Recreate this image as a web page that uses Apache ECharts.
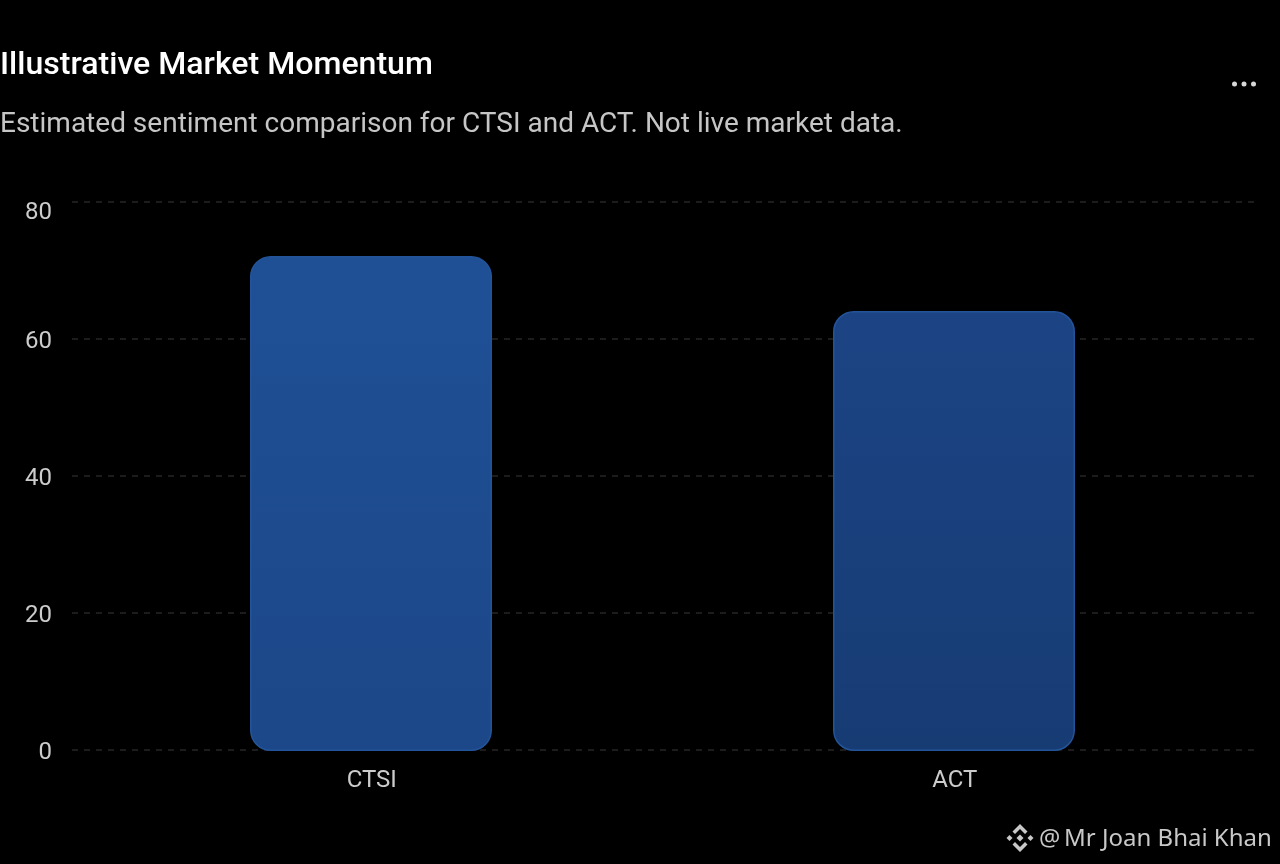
<!DOCTYPE html>
<html><head><meta charset="utf-8">
<style>html,body{margin:0;padding:0;background:#000}#c{width:1280px;height:864px}</style>
<script src="https://cdn.jsdelivr.net/npm/echarts@6/dist/echarts.min.js"></script>
</head><body><div id="c"></div>
<script>
const categories = ["CTSI", "ACT"];
const momentum = [72, 64];
const yTicks = { min: 0, max: 80, interval: 20 };
const titleText = "Illustrative Market Momentum";
const subtitleText = "Estimated sentiment comparison for CTSI and ACT. Not live market data.";
const watermarkAt = "@";
const watermarkName = "Mr Joan Bhai Khan";

const barFills = [
  ["#1f5096", "#1c4788"],
  ["#1c4484", "#173c74"]
];
const chart = echarts.init(document.getElementById("c"), null, { renderer: "canvas" });
const grad = (a, b) => new echarts.graphic.LinearGradient(0, 0, 0, 1, [{ offset: 0, color: a }, { offset: 1, color: b }]);
const poly = pts => ({ type: "polygon", shape: { points: pts }, style: { fill: "#c8c8c8" } });
const diamond = (cx, cy, r) => poly([[cx, cy - r], [cx + r, cy], [cx, cy + r], [cx - r, cy]]);
const cx = 1020, cy = 838;
chart.setOption({
  backgroundColor: "#000",
  animation: false,
  textStyle: { fontFamily: "Roboto" },
  title: [
    { text: titleText, left: 0, top: 50, padding: 0, textStyle: { color: "#fff", fontSize: 32.1, fontWeight: 500, fontFamily: "Roboto" } },
    { text: subtitleText, left: 0, top: 111, padding: 0, textStyle: { color: "#c6c6c6", fontSize: 28, fontWeight: 400, fontFamily: "Roboto" } }
  ],
  grid: [
    { left: 72, right: 26, top: 202, bottom: 114 },
    { left: 79.5, right: 34.5, top: 201, bottom: 113 }
  ],
  xAxis: [
    { type: "category", gridIndex: 0, data: categories, axisLine: { show: false }, axisTick: { show: false }, axisLabel: { show: false } },
    { type: "category", gridIndex: 1, data: categories,
      axisLine: { show: false }, axisTick: { show: false },
      axisLabel: { color: "#cccccc", fontSize: 24, margin: 18, padding: [0, 0, 0, 1.5], fontFamily: "Roboto" } }
  ],
  yAxis: [
    { type: "value", gridIndex: 0, min: yTicks.min, max: yTicks.max, interval: yTicks.interval,
      axisLine: { show: false }, axisTick: { show: false },
      axisLabel: {
        fontFamily: "Roboto", margin: 20, fontSize: 24, color: "#cccccc",
        formatter: v => v === yTicks.max ? "{top|" + v + "}" : "{std|" + v + "}",
        rich: {
          top: { color: "#cccccc", fontSize: 24, fontFamily: "Roboto", padding: [21, 0, 0, 0] },
          std: { color: "#cccccc", fontSize: 24, fontFamily: "Roboto", padding: [5, 0, 0, 0] }
        }
      },
      splitLine: { lineStyle: { color: "#262626", type: [6, 6], width: 1.5 } }
    },
    { type: "value", gridIndex: 1, min: yTicks.min, max: yTicks.max, interval: yTicks.interval,
      axisLine: { show: false }, axisTick: { show: false }, axisLabel: { show: false }, splitLine: { show: false } }
  ],
  series: [{
    type: "bar", barWidth: 242, xAxisIndex: 1, yAxisIndex: 1,
    data: momentum.map((v, i) => ({
      value: v,
      itemStyle: { color: grad(barFills[i][0], barFills[i][1]), borderColor: "#23549a", borderWidth: 1.5, borderRadius: 20 }
    }))
  }],
  graphic: [
    { type: "circle", shape: { cx: 1234.5, cy: 84, r: 2.5 }, style: { fill: "#d8d8d8" } },
    { type: "circle", shape: { cx: 1244, cy: 84, r: 2.5 }, style: { fill: "#d8d8d8" } },
    { type: "circle", shape: { cx: 1253.5, cy: 84, r: 2.5 }, style: { fill: "#d8d8d8" } },
    poly([[cx, cy - 14], [cx + 7.5, cy - 6.5], [cx + 5, cy - 4], [cx, cy - 9], [cx - 5, cy - 4], [cx - 7.5, cy - 6.5]]),
    poly([[cx, cy + 14], [cx + 7.5, cy + 6.5], [cx + 5, cy + 4], [cx, cy + 9], [cx - 5, cy + 4], [cx - 7.5, cy + 6.5]]),
    diamond(cx - 10.5, cy, 3), diamond(cx + 10.5, cy, 3), diamond(cx, cy, 3.5),
    { type: "text", style: { x: 1039, y: 839, text: watermarkAt, fill: "#c8c8c8", font: "23.7px 'Noto Sans'", textVerticalAlign: "middle" } },
    { type: "text", style: { x: 1064, y: 839, text: watermarkName, fill: "#c8c8c8", font: "24px 'Noto Sans'", textVerticalAlign: "middle" } }
  ]
});
</script></body></html>
